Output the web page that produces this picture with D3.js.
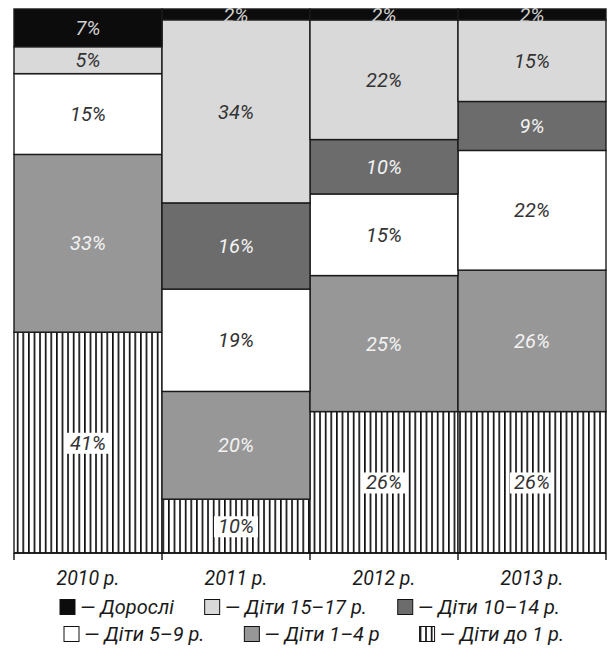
<!DOCTYPE html>
<html><head><meta charset="utf-8">
<script src="https://cdn.jsdelivr.net/npm/d3@7"></script>
<style>
body{margin:0;background:#fff;}
text{font-family:Roboto,"Liberation Sans",sans-serif;font-style:italic;}
</style></head><body>
<svg id="c" width="609" height="654"></svg>
<script>
const years = ["2010 р.","2011 р.","2012 р.","2013 р."];
const keys = ["infant","age1_4","age5_9","age10_14","age15_17","adults"];
const legendLabels = {
  adults:"— Дорослі", age15_17:"— Діти 15–17 р.", age10_14:"— Діти 10–14 р.",
  age5_9:"— Діти 5–9 р.", age1_4:"— Діти 1–4 р", infant:"— Діти до 1 р."
};
const infant   = [41,10,26,26];
const age1_4   = [33,20,25,26];
const age5_9   = [15,19,15,22];
const age10_14 = [0,16,10,9];
const age15_17 = [5,34,22,15];
const adults   = [7,2,2,2];

const series = {infant,age1_4,age5_9,age10_14,age15_17,adults};
const rows = years.map((y,i)=>{const o={year:y};keys.forEach(k=>o[k]=series[k][i]);return o;});

const fills = {adults:"#0c0c0c",age15_17:"#d9d9d9",age10_14:"#6c6c6c",age5_9:"#ffffff",age1_4:"#979797",infant:"url(#stripes)"};
const textFill = {adults:"#d0d0d0",age15_17:"#333",age10_14:"#f2f2f2",age5_9:"#333",age1_4:"#f2f2f2",infant:"#333"};

const svg = d3.select("#c");
const defs = svg.append("defs");
const pat = defs.append("pattern").attr("id","stripes").attr("patternUnits","userSpaceOnUse")
  .attr("width",5.6).attr("height",10);
pat.append("rect").attr("width",5.6).attr("height",10).attr("fill","#fff");
pat.append("rect").attr("x",0).attr("width",1.7).attr("height",10).attr("fill","#111");

const x = d3.scaleBand().domain(years).range([14,606]).padding(0);
const y = d3.scaleLinear().domain([0,1]).range([553,9]);

const stack = d3.stack().keys(keys).offset(d3.stackOffsetExpand);
const stacked = stack(rows);

const g = svg.append("g");
stacked.forEach(layer=>{
  const k = layer.key;
  layer.forEach(d=>{
    if (d[1]-d[0] <= 0) return;
    g.append("rect")
      .attr("x",x(d.data.year)).attr("width",x.bandwidth())
      .attr("y",y(d[1])).attr("height",y(d[0])-y(d[1]))
      .attr("fill",fills[k]).attr("stroke","#1a1a1a").attr("stroke-width",1.4);
  });
});
// labels
stacked.forEach(layer=>{
  const k = layer.key;
  layer.forEach(d=>{
    const v = d.data[k];
    if (!v) return;
    const cx = x(d.data.year)+x.bandwidth()/2;
    const cy = (y(d[0])+y(d[1]))/2;
    const t = g.append("text").attr("x",cx).attr("y",cy).attr("dy","0.36em")
      .attr("text-anchor","middle").attr("font-size",20).attr("fill",textFill[k]).text(v+"%");
    if (k==="infant"){
      const bb = t.node().getBBox();
      g.insert("rect","text:last-of-type").attr("x",bb.x-4).attr("y",bb.y+2).attr("width",bb.width+8).attr("height",bb.height-3)
        .attr("fill","#fff");
      t.raise();
    }
  });
});

// axis
const ax = svg.append("g");
ax.append("line").attr("x1",14).attr("x2",606).attr("y1",553).attr("y2",553).attr("stroke","#111").attr("stroke-width",1.4);
const bounds = years.map(yy=>x(yy)).concat([x.range()[1]]);
bounds.forEach(b=>ax.append("line").attr("x1",b).attr("x2",b).attr("y1",553).attr("y2",560).attr("stroke","#111").attr("stroke-width",1.4));
years.forEach(yy=>ax.append("text").attr("x",x(yy)+x.bandwidth()/2).attr("y",578).attr("dy","0.36em")
  .attr("text-anchor","middle").attr("font-size",19.5).attr("fill","#1a1a1a").text(yy));

// legend
const legRows = [["adults","age15_17","age10_14"],["age5_9","age1_4","infant"]];
const legY = [607,634];
const legSpan = [[60,560],[64,564]];
legRows.forEach((r,ri)=>{
  const lg = svg.append("g").attr("transform",`translate(0,${legY[ri]})`);
  const items = r.map(k=>{
    const item = lg.append("g");
    item.append("rect").attr("x",0).attr("y",-7.5).attr("width",15).attr("height",15)
      .attr("fill",fills[k]).attr("stroke","#111").attr("stroke-width",1);
    const t = item.append("text").attr("x",20).attr("y",0).attr("dy","0.36em").attr("font-size",20).attr("fill","#1a1a1a").text(legendLabels[k]);
    return {item, w: 20 + t.node().getComputedTextLength()};
  });
  const totalW = d3.sum(items, d=>d.w);
  const gap = (legSpan[ri][1]-legSpan[ri][0]-totalW)/(items.length-1);
  let cur = legSpan[ri][0];
  items.forEach(d=>{ d.item.attr("transform",`translate(${cur},0)`); cur += d.w + gap; });
});
</script></body></html>
